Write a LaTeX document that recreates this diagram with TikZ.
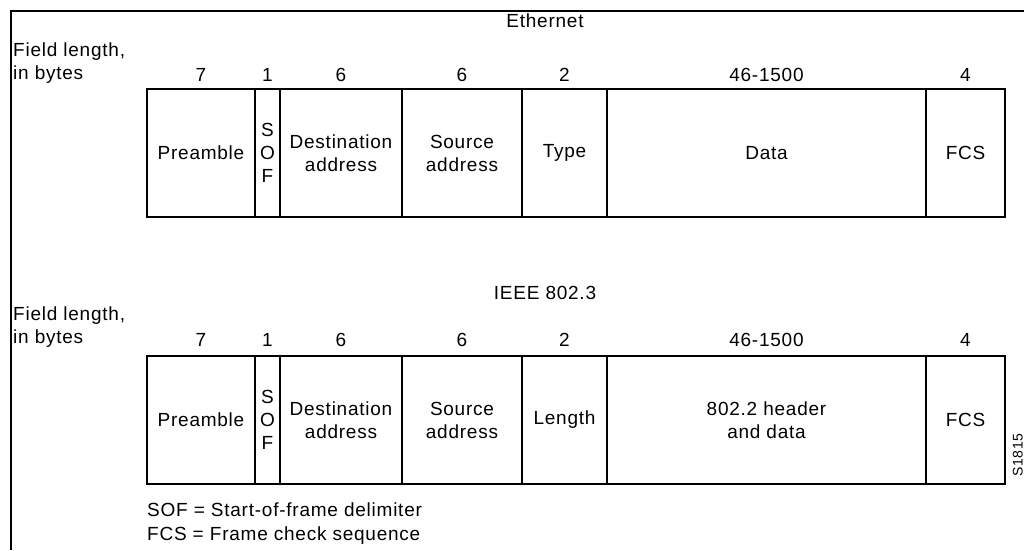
\documentclass[tikz,border=0pt]{standalone}
\usepackage{fontspec}
\setmainfont{Liberation Sans}[LetterSpace=4]
\usetikzlibrary{positioning}

\begin{document}
\begin{tikzpicture}[
      x=1pt, y=-1pt,
      every node/.style={font=\fontsize{19}{23}\selectfont},
      field/.style={rectangle, draw, line width=1.2pt, outer sep=0pt, inner sep=0pt, minimum height=128pt, align=center},
      size/.style={inner sep=0pt},
      title/.style={inner sep=0pt},
      note/.style={inner sep=0pt, anchor=west, align=left}
    ]
    \useasboundingbox (0,0) rectangle (1024,550);
    \draw[line width=1.8pt] (11,550) -- (11,11) -- (1024,11);

    % Ethernet frame
    \node[title] (ethtitle) at (545,21) {Ethernet};
    \node[note] (ethlen) at (13,63) {Field length,\\in bytes};

    \node[field, minimum width=108pt, anchor=north west] (epre) at (147,89) {Preamble};
    \node[field, minimum width=25pt, right=0pt of epre] (esof) {S\\O\\F};
    \node[field, minimum width=122pt, right=0pt of esof] (edst) {Destination\\address};
    \node[field, minimum width=120pt, right=0pt of edst] (esrc) {Source\\address};
    \node[field, minimum width=85pt, right=0pt of esrc] (etype) {Type};
    \node[field, minimum width=319pt, right=0pt of etype] (edata) {Data};
    \node[field, minimum width=79pt, right=0pt of edata] (efcs) {FCS};

    \node[size, above=7pt of epre] (epre-n) {7};
    \node[size, above=7pt of esof] (esof-n) {1};
    \node[size, above=7pt of edst] (edst-n) {6};
    \node[size, above=7pt of esrc] (esrc-n) {6};
    \node[size, above=7pt of etype] (etype-n) {2};
    \node[size, above=7pt of edata] (edata-n) {46-1500};
    \node[size, above=7pt of efcs] (efcs-n) {4};

    % IEEE 802.3 frame
    \node[title] (ieeetitle) at (545,293) {IEEE 802.3};
    \node[note] (ieeelen) at (13,327) {Field length,\\in bytes};

    \node[field, minimum width=108pt, anchor=north west] (ipre) at (147,356) {Preamble};
    \node[field, minimum width=25pt, right=0pt of ipre] (isof) {S\\O\\F};
    \node[field, minimum width=122pt, right=0pt of isof] (idst) {Destination\\address};
    \node[field, minimum width=120pt, right=0pt of idst] (isrc) {Source\\address};
    \node[field, minimum width=85pt, right=0pt of isrc] (ilen) {Length};
    \node[field, minimum width=319pt, right=0pt of ilen] (idata) {802.2 header\\and data};
    \node[field, minimum width=79pt, right=0pt of idata] (ifcs) {FCS};

    \node[size, above=9pt of ipre] (ipre-n) {7};
    \node[size, above=9pt of isof] (isof-n) {1};
    \node[size, above=9pt of idst] (idst-n) {6};
    \node[size, above=9pt of isrc] (isrc-n) {6};
    \node[size, above=9pt of ilen] (ilen-n) {2};
    \node[size, above=9pt of idata] (idata-n) {46-1500};
    \node[size, above=9pt of ifcs] (ifcs-n) {4};

    % legend and figure id
    \node[note] (sofnote) at (147,510) {SOF = Start-of-frame delimiter};
    \node[note] (fcsnote) at (147,536) {FCS = Frame check sequence};
    \node[inner sep=0pt, rotate=90, anchor=south, font=\fontsize{14}{16}\selectfont] (figid) at (1023,455) {S1815};
  \end{tikzpicture}
\end{document}
